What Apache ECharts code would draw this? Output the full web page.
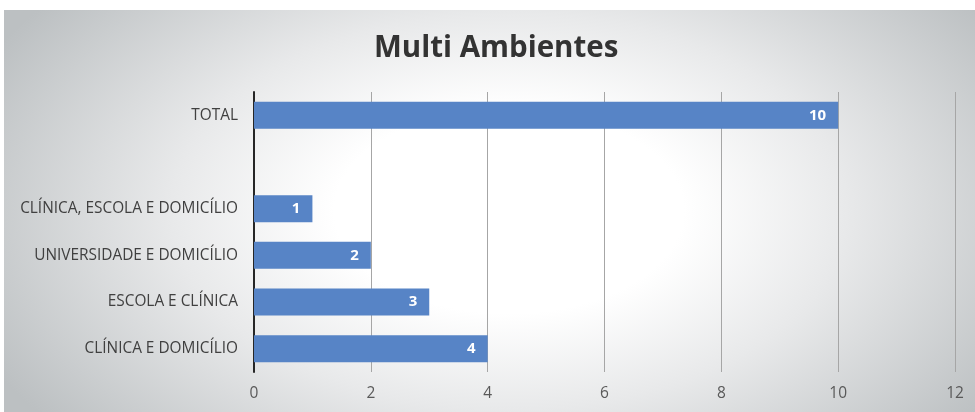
<!DOCTYPE html>
<html><head><meta charset="utf-8">
<script src="https://cdn.jsdelivr.net/npm/echarts@6/dist/echarts.min.js"></script>
<style>
html,body{margin:0;padding:0;background:#fff;}
#wrap{position:absolute;left:4px;top:10px;width:971px;height:402px;
background:radial-gradient(ellipse 60% 85% at 52% 50%, #ffffff 30%, #e8e9ea 58%, #bcc0c2 100%);}
#c{position:absolute;left:0;top:0;width:975px;height:412px;}
</style></head>
<body>
<div id="wrap"></div>
<div id="c"></div>
<script>
const categories = ['CLÍNICA E DOMICÍLIO','ESCOLA E CLÍNICA','UNIVERSIDADE E DOMICÍLIO','CLÍNICA, ESCOLA E DOMICÍLIO',' ','TOTAL'];
const values = [4,3,2,1,null,10];
const xTicks = [0,2,4,6,8,10,12];
const titleText = 'Multi Ambientes';

const chart = echarts.init(document.getElementById('c'), null, {renderer:'canvas'});
chart.setOption({
  backgroundColor:'transparent',
  animation:false,
  title:{text:titleText,left:369,top:29,textStyle:{fontFamily:'Open Sans',fontWeight:'bold',fontSize:29.5,color:'#333333'}},
  grid:{left:254,right:20,top:92,bottom:40,containLabel:false},
  xAxis:{type:'value',min:xTicks[0],max:xTicks[xTicks.length-1],interval:2,
    axisLine:{show:false},axisTick:{show:false},
    axisLabel:{color:'#595959',fontSize:15.5,fontFamily:'Open Sans',margin:14},
    splitLine:{show:true,lineStyle:{color:'#a6a6a6',width:1}}},
  yAxis:{type:'category',data:categories,
    axisLine:{show:true,lineStyle:{color:'#262626',width:2}},
    axisTick:{show:false},
    axisLabel:{color:'#404040',fontSize:15.4,fontFamily:'Open Sans',margin:16}},
  series:[{type:'bar',data:values,barWidth:27,
    itemStyle:{color:'#5784c6'},
    label:{show:true,position:'insideRight',distance:12,color:'#ffffff',fontWeight:'bold',fontSize:15,fontFamily:'Open Sans'}}]
});
</script>
</body></html>
